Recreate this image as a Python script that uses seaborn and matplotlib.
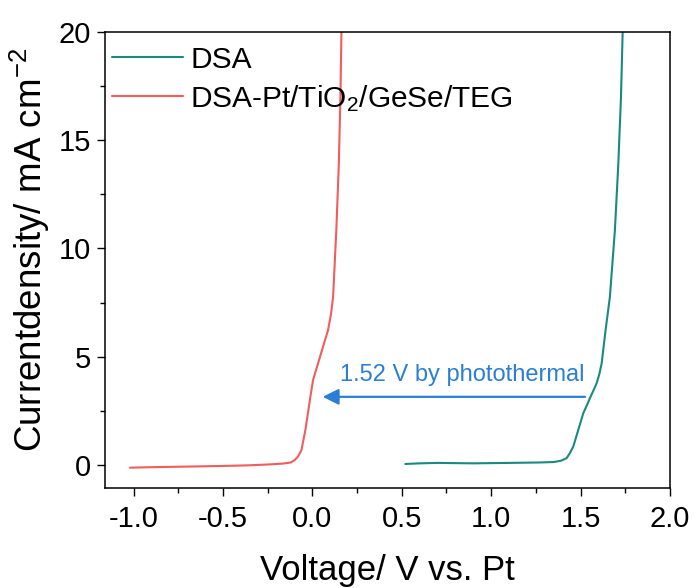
import numpy as np
import pandas as pd
import matplotlib
matplotlib.use("Agg")
import matplotlib.pyplot as plt
from matplotlib.ticker import MultipleLocator
import seaborn as sns

# DSA curve (voltage V vs. Pt, current density mA cm^-2)
dsa_v = [0.52, 0.60, 0.70, 0.90, 1.10, 1.27, 1.35, 1.39, 1.422, 1.44, 1.459,
         1.487, 1.515, 1.540, 1.556, 1.575, 1.590, 1.605, 1.618, 1.640, 1.664,
         1.692, 1.711, 1.726, 1.736]
dsa_j = [0.05, 0.08, 0.10, 0.08, 0.10, 0.12, 0.14, 0.20, 0.32, 0.55, 0.85,
         1.62, 2.39, 2.85, 3.16, 3.50, 3.78, 4.20, 4.70, 6.24, 7.77,
         10.85, 13.9, 17.0, 20.2]

# DSA-Pt/TiO2/GeSe/TEG curve
teg_v = [-1.02, -0.85, -0.70, -0.50, -0.35, -0.24, -0.164, -0.12, -0.099,
         -0.080, -0.061, -0.039, -0.011, 0.004, 0.032, 0.060, 0.088, 0.104,
         0.116, 0.134, 0.148, 0.157, 0.163]
teg_j = [-0.12, -0.09, -0.07, -0.04, -0.01, 0.03, 0.07, 0.12, 0.23,
         0.40, 0.69, 1.62, 3.16, 3.93, 4.70, 5.47, 6.24, 6.95,
         7.77, 10.85, 13.9, 17.0, 20.2]

labels = ["DSA", "DSA-Pt/TiO$_2$/GeSe/TEG"]
colors = ["#1a8a80", "#f25c5c"]

shift_text = "1.52 V by photothermal"
arrow_start = (1.525, 3.15)
arrow_end = (0.058, 3.15)

df = pd.concat([
    pd.DataFrame({"V": dsa_v, "J": dsa_j, "sample": labels[0]}),
    pd.DataFrame({"V": teg_v, "J": teg_j, "sample": labels[1]}),
])

sns.set_theme(style="ticks")
plt.rcParams["font.family"] = ["Liberation Sans", "DejaVu Sans"]
plt.rcParams["mathtext.default"] = "regular"
plt.rcParams["text.color"] = "black"
plt.rcParams["axes.labelcolor"] = "black"

fig = plt.figure(figsize=(6.95, 5.88), dpi=100)
ax = fig.add_axes([0.151, 0.170, 0.813, 0.776])

sns.lineplot(data=df, x="V", y="J", hue="sample", palette=colors,
             sort=False, estimator=None, linewidth=1.5, ax=ax)

ax.set_xlim(-1.16, 2.0)
ax.set_ylim(-1.06, 20)
ax.xaxis.set_minor_locator(MultipleLocator(0.25))
ax.yaxis.set_major_locator(MultipleLocator(5))
ax.yaxis.set_minor_locator(MultipleLocator(2.5))
ax.set_xticks([-1.0, -0.5, 0.0, 0.5, 1.0, 1.5, 2.0])
ax.set_xticklabels(["-1.0", "-0.5", "0.0", "0.5", "1.0", "1.5", "2.0"])
ax.tick_params(axis="both", which="major", direction="out", length=6, width=1.0,
               labelsize=21, colors="black", pad=4)
ax.tick_params(axis="x", which="major", pad=6)
ax.tick_params(axis="both", which="minor", direction="out", length=3.3, width=1.0,
               colors="black")
for s in ax.spines.values():
    s.set_linewidth(1.1)
    s.set_color("black")

ax.set_xlabel("Voltage/ V vs. Pt", fontsize=25, labelpad=15)
ax.set_ylabel("Currentdensity/ mA cm$^{-2}$", fontsize=26.5)
ax.yaxis.set_label_coords(-0.094, 0.522)

ax.annotate("", xy=arrow_end, xytext=arrow_start,
            arrowprops=dict(arrowstyle="-|>", color="#2a7fd4", lw=1.6,
                            mutation_scale=24, shrinkA=0, shrinkB=0))
ax.text(0.84, 4.15, shift_text, color="#2a7fd4", fontsize=17,
        ha="center", va="center")

leg = ax.legend(loc="upper left", bbox_to_anchor=(0.0124, 0.969), frameon=False,
                fontsize=21.5, handlelength=2.37, handletextpad=0.25,
                borderpad=0, borderaxespad=0, labelspacing=0.3)

fig.savefig("out.png", dpi=100)
